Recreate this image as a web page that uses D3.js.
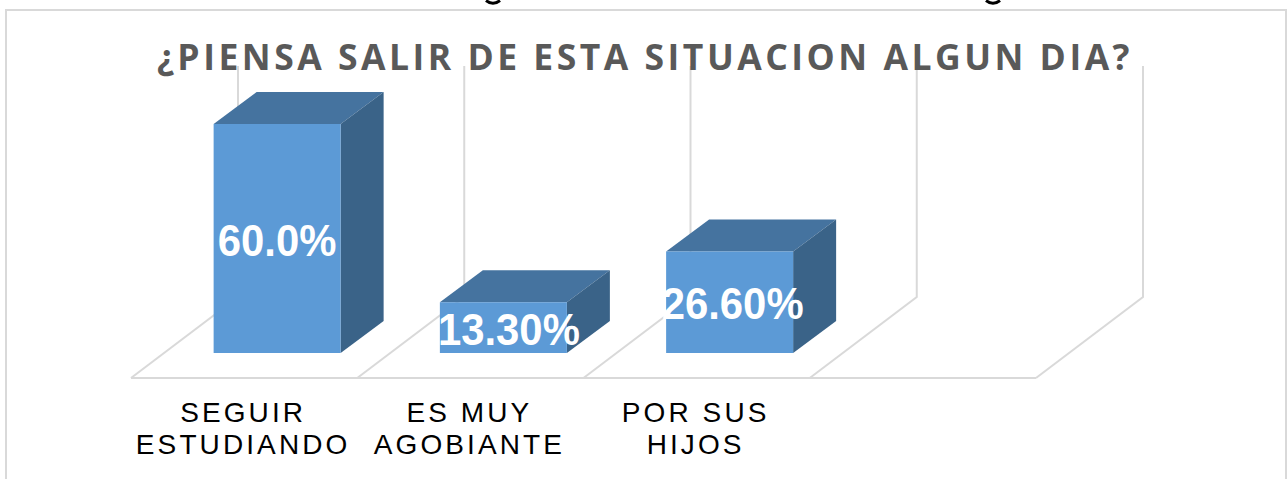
<!DOCTYPE html>
<html><head><meta charset="utf-8">
<script src="https://cdn.jsdelivr.net/npm/d3@7"></script>
<style>html,body{margin:0;padding:0;background:#fff}svg{display:block}</style>
</head><body><svg id="c" width="1288" height="479"></svg>
<script>
const titleText = "¿PIENSA SALIR DE ESTA SITUACION ALGUN DIA?";
const categories = ["SEGUIR ESTUDIANDO", "ES MUY AGOBIANTE", "POR SUS HIJOS", ""];
const categoryLines = [["SEGUIR","ESTUDIANDO"],["ES MUY","AGOBIANTE"],["POR SUS","HIJOS"],[]];
const values = [60.0, 13.3, 26.6];
const valueLabels = ["60.0%", "13.30%", "26.60%"];

const svg = d3.select("#c");
const W = 1288, H = 479;
const floorFrontY = 378, floorBackY = 297, depthX = 107;
const barBaseY = 353, wallTop = 66;
const barDX = 43, barDY = 32;
const x = d3.scaleBand().domain(categories).range([131, 1036]);
const y = d3.scaleLinear().domain([0, 60]).range([barBaseY, 124]);
const barW = 127;

// frame
svg.append("path").attr("d", `M6,${H}V10H1286V${H}`).attr("fill", "none").attr("stroke", "#d9d9d9").attr("stroke-width", 2);

// cropped glyph remains from the text above the chart
[493, 993].forEach(cx => svg.append("path")
  .attr("d", `M${cx-7},0.5Q${cx},6 ${cx+7},0.5`).attr("fill", "none").attr("stroke", "#000").attr("stroke-width", 3));

// walls and floor
const grid = svg.append("g").attr("fill", "none").attr("stroke", "#d9d9d9").attr("stroke-width", 2);
const edges = x.domain().map(d => x(d)).concat(x.range()[1]);
edges.forEach(e => {
  grid.append("path").attr("d", `M${e},${floorFrontY}L${e + depthX},${floorBackY}V${wallTop}`);
});
grid.append("line").attr("x1", x.range()[0]).attr("x2", x.range()[1]).attr("y1", floorFrontY).attr("y2", floorFrontY);

// bars
const bars = svg.append("g").selectAll("g").data(values).join("g");
const barX = (d, i) => x(categories[i]) + x.bandwidth() / 2 + 33 - barW / 2;
bars.append("path").attr("fill", "#45739f").attr("d", (d, i) => {
  const l = barX(d, i), t = y(d);
  return `M${l},${t}l${barDX},${-barDY}h${barW}l${-barDX},${barDY}z`;
});
bars.append("path").attr("fill", "#3a6388").attr("d", (d, i) => {
  const l = barX(d, i) + barW, t = y(d);
  return `M${l},${t}l${barDX},${-barDY}V${barBaseY - barDY}L${l},${barBaseY}z`;
});
bars.append("rect").attr("fill", "#5c9ad6").attr("x", barX).attr("y", d => y(d)).attr("width", barW).attr("height", d => barBaseY - y(d));

// title
svg.append("text").attr("x", 645).attr("y", 70).attr("text-anchor", "middle")
  .attr("font-family", "'Open Sans'").attr("font-weight", 700).attr("font-size", 35.5)
  .attr("letter-spacing", 3.5).attr("fill", "#595959").text(titleText);

// axis labels
const lab = svg.append("g").attr("font-family", "'Liberation Sans'").attr("font-size", 28)
  .attr("letter-spacing", 3.1).attr("fill", "#000").attr("text-anchor", "middle");
categories.forEach((c, i) => categoryLines[i].forEach((ln, j) =>
  lab.append("text").attr("x", x(c) + x.bandwidth() / 2 - 1).attr("y", 422 + j * 31.5).text(ln)));

// data labels
const lblDX = [0, 5.5, 3], lblDY = [132, 43, 68];
svg.append("g").selectAll("text").data(valueLabels).join("text")
  .attr("transform", (d, i) => `translate(${barX(values[i], i) + barW / 2 + lblDX[i]},${y(values[i]) + lblDY[i]}) scale(0.93,1)`)
  .attr("text-anchor", "middle").attr("font-family", "'Liberation Sans'").attr("font-weight", 700)
  .attr("font-size", 45).attr("fill", "#fff").text(d => d);
</script></body></html>
